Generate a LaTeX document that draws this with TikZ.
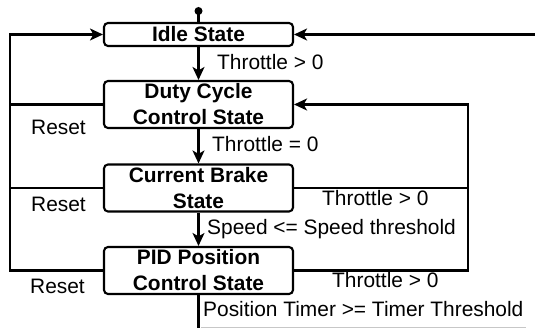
\documentclass[tikz,border=0pt]{standalone}
\usepackage{fontspec}
\setmainfont{Liberation Sans}
\usetikzlibrary{arrows.meta}
% line strut: height 18pt, depth 3pt
\newcommand\lstrut{\rule[-3pt]{0pt}{21pt}}
\tikzset{
  statebox/.style={draw, line width=2.1pt, rounded corners=4pt, inner sep=0pt,
    minimum width=189pt, align=center,
    font=\fontsize{20.9}{26}\selectfont\bfseries},
  cond/.style={inner sep=0pt, anchor=base west, font=\fontsize{20.9}{25}\selectfont},
  wire/.style={line width=2.1pt},
  arr/.style={wire, -{Stealth[length=13pt,width=12pt,inset=3.5pt]}},
}
\begin{document}
\begin{tikzpicture}[x=1pt,y=-1pt]
\useasboundingbox (0,0) rectangle (535,328);

% states
\node[statebox, minimum height=23pt] (idle) at (198.5,34.5) {\lstrut Idle State};
\node[statebox, minimum height=47pt] (duty) at (198.5,104.5) {\lstrut Duty Cycle\\\lstrut Control State};
\node[statebox, minimum height=46pt] (brake) at (198.5,188) {\lstrut Current Brake\\\lstrut State};
\node[statebox, minimum height=47pt] (pid) at (198.5,270.5) {\lstrut PID Position\\\lstrut Control State};

% helper points
\coordinate (start) at (198.5,11);
\coordinate (left) at (10,270.5);
\coordinate (right) at (468,188);
\coordinate (out) at (198.5,328);
\coordinate (back) at (535,34.5);

% initial marker
\fill (start) circle (4pt);
\draw[wire] (start) -- (idle.north);

% main sequence
\draw[arr] (idle.south) -- (duty.north);
\draw[arr] (duty.south) -- (brake.north);
\draw[arr] (brake.south) -- (pid.north);
\draw[wire] (pid.south) -- (out);

% reset loop on the left
\draw[arr] (pid.west) -- (left) |- (idle.west);
\draw[wire] (duty.west) -- (duty.west -| left);
\draw[wire] (brake.west) -- (brake.west -| left);

% throttle loop on the right
\draw[arr] (brake.east) -- (right) |- (duty.east);
\draw[wire] (pid.east) -| (right);

% return into idle
\draw[arr] (back) -- (idle.east);

% bottom rule
\draw[black!22, line width=0.8pt] (201,327) -- (526,327);

% conditions
\node[cond] (c1) at (217,70) {Throttle > 0};
\node[cond] (c2) at (212,151.7) {Throttle = 0};
\node[cond] (c3) at (207,235) {Speed <= Speed threshold};
\node[cond] (c4) at (203,316.7) {Position Timer >= Timer Threshold};
\node[cond] (c5) at (322,206) {Throttle > 0};
\node[cond] (c6) at (332,288) {Throttle > 0};
\node[cond] (r1) at (31,135) {Reset};
\node[cond] (r2) at (31,211.7) {Reset};
\node[cond] (r3) at (30,294) {Reset};
\end{tikzpicture}
\end{document}
